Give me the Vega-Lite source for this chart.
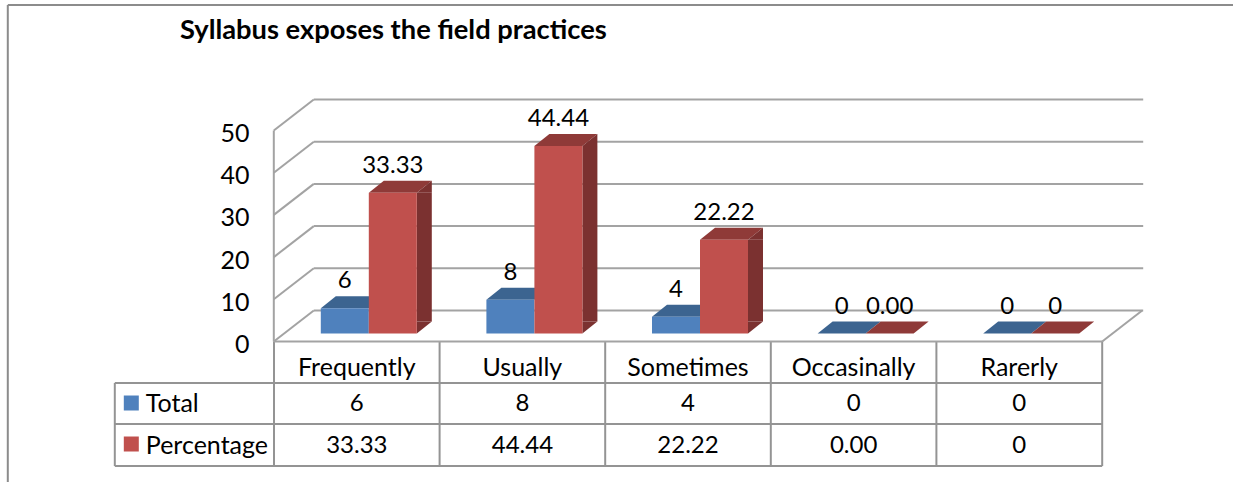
{
"$schema":"https://vega.github.io/schema/vega-lite/v6.json",
"width":1233,"height":482,"autosize":"none","padding":0,"background":"white",
"title":{"text":"Syllabus exposes the field practices","anchor":"start","frame":"group","dx":180,"offset":-44,"font":"Lato","fontSize":27.3,"fontWeight":"bold","color":"black"},
"config":{"view":{"stroke":null},"axisX":{"disable":true},"text":{"font":"Lato","fontSize":25,"color":"black"}},
"datasets":{
"bars":[
{"category":"Frequently","series":"Total","value":6,"label":"6"},
{"category":"Usually","series":"Total","value":8,"label":"8"},
{"category":"Sometimes","series":"Total","value":4,"label":"4"},
{"category":"Occasinally","series":"Total","value":0,"label":"0"},
{"category":"Rarerly","series":"Total","value":0,"label":"0"},
{"category":"Frequently","series":"Percentage","value":33.33,"label":"33.33"},
{"category":"Usually","series":"Percentage","value":44.44,"label":"44.44"},
{"category":"Sometimes","series":"Percentage","value":22.22,"label":"22.22"},
{"category":"Occasinally","series":"Percentage","value":0,"label":"0.00"},
{"category":"Rarerly","series":"Percentage","value":0,"label":"0"}
],
"ticks":[{"tick":0},{"tick":10},{"tick":20},{"tick":30},{"tick":40},{"tick":50}],
"cats":[{"category":"Frequently"},{"category":"Usually"},{"category":"Sometimes"},{"category":"Occasinally"},{"category":"Rarerly"}]
},
"layer":[
{"data":{"name":"ticks"},"mark":{"type":"rule","stroke":"#a3a3a3","strokeWidth":2,"xOffset":-43,"x2Offset":124,"yOffset":-31},
 "encoding":{"x":{"datum":"Frequently","type":"nominal","scale":{"type":"band","domain":["Frequently","Usually","Sometimes","Occasinally","Rarerly"],"range":[274,1102],"paddingInner":0,"paddingOuter":0}},"x2":{"datum":"Rarerly"},
 "y":{"field":"tick","type":"quantitative","scale":{"domain":[-33.29,80.92],"range":[482,0],"nice":false,"zero":false},
  "axis":{"values":[0,10,20,30,40,50],"orient":"left","offset":-254,"labelPadding":5,"domain":false,"ticks":false,"grid":false,"title":null,"labelFont":"Lato","labelFontSize":25,"labelColor":"black","labelOverlap":false,"labelOffset":3}}}},
{"data":{"name":"ticks"},"mark":{"type":"point","shape":"M0 0L40 -31","size":4,"filled":false,"stroke":"#a3a3a3","strokeWidth":2,"opacity":1,"xOffset":-83},
 "encoding":{"x":{"datum":"Frequently","type":"nominal"},"y":{"field":"tick","type":"quantitative"}}},
{"data":{"values":[{"a":1}]},"mark":{"type":"rule","stroke":"#a3a3a3","strokeWidth":2,"xOffset":-83},
 "encoding":{"x":{"datum":"Frequently","type":"nominal"},"y":{"datum":0,"type":"quantitative"},"y2":{"datum":50}}},
{"data":{"values":[{"a":1}]},"mark":{"type":"point","shape":"M0 0L40 -31","size":4,"filled":false,"stroke":"#a3a3a3","strokeWidth":2,"opacity":1,"xOffset":83},
 "encoding":{"x":{"datum":"Rarerly","type":"nominal"},"y":{"datum":0,"type":"quantitative"}}},
{"data":{"values":[{"a":1}]},"mark":{"type":"rule","stroke":"#8c8c8c","strokeWidth":2,"xOffset":-349,"yOffset":-336.5,"y2Offset":140.5},
 "encoding":{"x":{"datum":"Frequently","type":"nominal"},"y":{"datum":0,"type":"quantitative"},"y2":{"datum":0}}},
{"data":{"values":[{"a":1}]},"mark":{"type":"rule","stroke":"#8c8c8c","strokeWidth":2,"xOffset":-349,"x2Offset":214,"yOffset":-336.5},
 "encoding":{"x":{"datum":"Frequently","type":"nominal"},"x2":{"datum":"Rarerly"},"y":{"datum":0,"type":"quantitative"}}},
{"data":{"name":"cats"},"mark":{"type":"rule","stroke":"#949494","strokeWidth":2,"y2Offset":124.5},
 "encoding":{"x":{"field":"category","type":"nominal","bandPosition":0},"y":{"datum":0,"type":"quantitative"},"y2":{"datum":0}}},
{"data":{"values":[{"a":1}]},"mark":{"type":"rule","stroke":"#949494","strokeWidth":2,"xOffset":83,"y2Offset":124.5},
 "encoding":{"x":{"datum":"Rarerly","type":"nominal"},"y":{"datum":0,"type":"quantitative"},"y2":{"datum":0}}},
{"data":{"values":[{"a":1}]},"mark":{"type":"rule","stroke":"#949494","strokeWidth":2,"xOffset":-242,"yOffset":41.5,"y2Offset":124.5},
 "encoding":{"x":{"datum":"Frequently","type":"nominal"},"y":{"datum":0,"type":"quantitative"},"y2":{"datum":0}}},
{"data":{"values":[{"a":1}]},"mark":{"type":"rule","stroke":"#a3a3a3","strokeWidth":2,"xOffset":-83,"x2Offset":83},
 "encoding":{"x":{"datum":"Frequently","type":"nominal"},"x2":{"datum":"Rarerly"},"y":{"datum":0,"type":"quantitative"}}},
{"data":{"values":[{"a":1}]},"mark":{"type":"rule","stroke":"#949494","strokeWidth":2,"xOffset":-242,"x2Offset":83,"yOffset":41.5},
 "encoding":{"x":{"datum":"Frequently","type":"nominal"},"x2":{"datum":"Rarerly"},"y":{"datum":0,"type":"quantitative"}}},
{"data":{"values":[{"a":1}]},"mark":{"type":"rule","stroke":"#949494","strokeWidth":2,"xOffset":-242,"x2Offset":83,"yOffset":82.5},
 "encoding":{"x":{"datum":"Frequently","type":"nominal"},"x2":{"datum":"Rarerly"},"y":{"datum":0,"type":"quantitative"}}},
{"data":{"values":[{"a":1}]},"mark":{"type":"rule","stroke":"#949494","strokeWidth":2,"xOffset":-242,"x2Offset":83,"yOffset":124.5},
 "encoding":{"x":{"datum":"Frequently","type":"nominal"},"x2":{"datum":"Rarerly"},"y":{"datum":0,"type":"quantitative"}}},

{"data":{"name":"bars"},"transform":[{"filter":"datum.series==='Total'"}],"mark":{"type":"point","shape":"M-24 0L-9 -12L39 -12L24 0Z","size":4,"filled":true,"fill":"#3c6490","stroke":null,"opacity":1,"xOffset":-12,"yOffset":-8},
 "encoding":{"x":{"field":"category","type":"nominal"},"y":{"field":"value","type":"quantitative"}}},
{"data":{"name":"bars"},"transform":[{"filter":"datum.series==='Total'"},{"filter":"datum.value>0"}],"mark":{"type":"bar","width":48,"fill":"#4f81bd","xOffset":-12,"yOffset":-8,"y2Offset":-8},
 "encoding":{"x":{"field":"category","type":"nominal"},"y":{"field":"value","type":"quantitative"},"y2":{"datum":0}}},
{"data":{"name":"bars"},"transform":[{"filter":"datum.series==='Percentage'"}],"mark":{"type":"point","shape":"M-24 0L-9 -12L39 -12L24 0Z","size":4,"filled":true,"fill":"#8f3a38","stroke":null,"opacity":1,"xOffset":36,"yOffset":-8},
 "encoding":{"x":{"field":"category","type":"nominal"},"y":{"field":"value","type":"quantitative"}}},
{"data":{"name":"bars"},"transform":[{"filter":"datum.series==='Percentage'"},{"filter":"datum.value>0"}],"mark":{"type":"bar","width":15,"fill":"#7b3130","xOffset":67.5,"yOffset":-8,"y2Offset":-20},
 "encoding":{"x":{"field":"category","type":"nominal"},"y":{"field":"value","type":"quantitative"},"y2":{"datum":0}}},
{"data":{"name":"bars"},"transform":[{"filter":"datum.series==='Percentage'"},{"filter":"datum.value>0"}],"mark":{"type":"point","shape":"M24 0L39 -12L39 0Z","size":4,"filled":true,"fill":"#7b3130","stroke":null,"opacity":1,"xOffset":36,"yOffset":-8},
 "encoding":{"x":{"field":"category","type":"nominal"},"y":{"field":"value","type":"quantitative"}}},
{"data":{"name":"bars"},"transform":[{"filter":"datum.series==='Percentage'"},{"filter":"datum.value>0"}],"mark":{"type":"point","shape":"M24 0L39 -12L24 -12Z","size":4,"filled":true,"fill":"#7b3130","stroke":null,"opacity":1,"xOffset":36,"yOffset":-8},
 "encoding":{"x":{"field":"category","type":"nominal"},"y":{"datum":0,"type":"quantitative"}}},
{"data":{"name":"bars"},"transform":[{"filter":"datum.series==='Percentage'"},{"filter":"datum.value>0"}],"mark":{"type":"bar","width":48,"fill":"#c0504d","xOffset":36,"yOffset":-8,"y2Offset":-8},
 "encoding":{"x":{"field":"category","type":"nominal"},"y":{"field":"value","type":"quantitative"},"y2":{"datum":0}}},

{"data":{"name":"bars"},"transform":[{"filter":"datum.series==='Total'"}],"mark":{"type":"text","baseline":"middle","fontSize":24,"xOffset":-12,"yOffset":-35},
 "encoding":{"x":{"field":"category","type":"nominal"},"y":{"field":"value","type":"quantitative"},"text":{"field":"label"}}},
{"data":{"name":"bars"},"transform":[{"filter":"datum.series==='Percentage'"}],"mark":{"type":"text","baseline":"middle","fontSize":24,"xOffset":36,"yOffset":-35},
 "encoding":{"x":{"field":"category","type":"nominal"},"y":{"field":"value","type":"quantitative"},"text":{"field":"label"}}},
{"data":{"name":"cats"},"mark":{"type":"text","baseline":"middle","yOffset":26},
 "encoding":{"x":{"field":"category","type":"nominal"},"y":{"datum":0,"type":"quantitative"},"text":{"field":"category"}}},
{"data":{"name":"bars"},"transform":[{"filter":"datum.series==='Total'"}],"mark":{"type":"text","baseline":"middle","fontSize":24,"yOffset":62},
 "encoding":{"x":{"field":"category","type":"nominal"},"y":{"datum":0,"type":"quantitative"},"text":{"field":"label"}}},
{"data":{"name":"bars"},"transform":[{"filter":"datum.series==='Percentage'"}],"mark":{"type":"text","baseline":"middle","fontSize":24,"yOffset":104},
 "encoding":{"x":{"field":"category","type":"nominal"},"y":{"datum":0,"type":"quantitative"},"text":{"field":"label"}}},

{"data":{"values":[{"series":"Total"}]},"mark":{"type":"text","baseline":"middle","align":"left","xOffset":-211,"yOffset":62},
 "encoding":{"x":{"datum":"Frequently","type":"nominal"},"y":{"datum":0,"type":"quantitative"},"text":{"field":"series"}}},
{"data":{"values":[{"series":"Percentage"}]},"mark":{"type":"text","baseline":"middle","align":"left","xOffset":-211,"yOffset":104},
 "encoding":{"x":{"datum":"Frequently","type":"nominal"},"y":{"datum":0,"type":"quantitative"},"text":{"field":"series"}}},
{"data":{"values":[{"series":"Total"}]},"mark":{"type":"point","shape":"square","size":225,"filled":true,"fill":"#4f81bd","stroke":null,"opacity":1,"xOffset":-225.5,"yOffset":61.5},
 "encoding":{"x":{"datum":"Frequently","type":"nominal"},"y":{"datum":0,"type":"quantitative"}}},
{"data":{"values":[{"series":"Percentage"}]},"mark":{"type":"point","shape":"square","size":225,"filled":true,"fill":"#c0504d","stroke":null,"opacity":1,"xOffset":-225.5,"yOffset":102.5},
 "encoding":{"x":{"datum":"Frequently","type":"nominal"},"y":{"datum":0,"type":"quantitative"}}}
]
}
